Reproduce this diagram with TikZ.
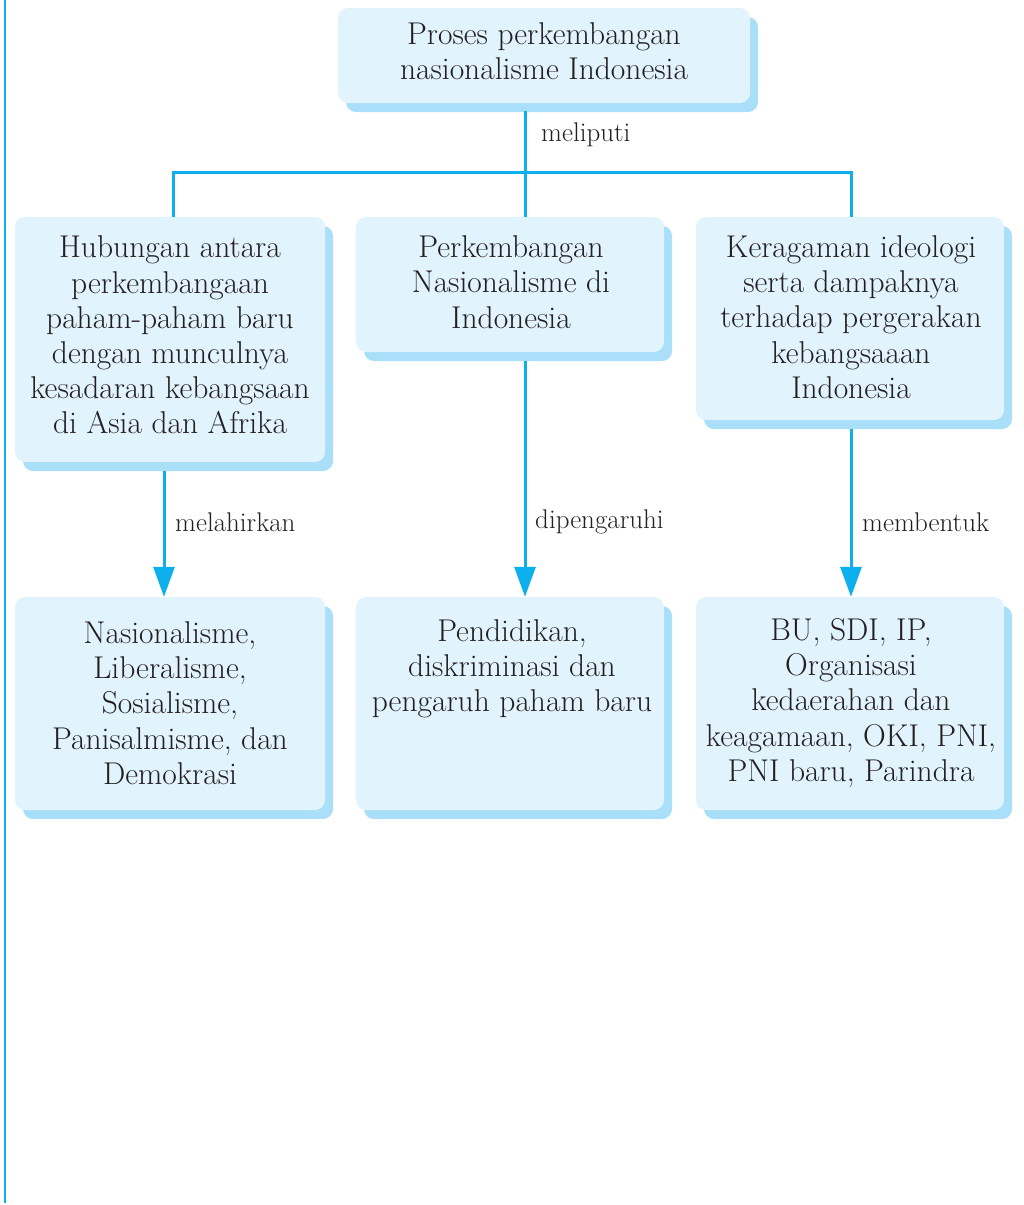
\documentclass[tikz,border=0pt]{standalone}
\usepackage{fontspec}
\setmainfont{Latin Modern Roman}
\usetikzlibrary{arrows.meta}
\definecolor{boxfill}{HTML}{E1F3FC}
\definecolor{boxshadow}{HTML}{A9DFF8}
\definecolor{linec}{HTML}{0DB0EC}
\definecolor{txt}{HTML}{231F20}
\begin{document}
\begin{tikzpicture}[x=1pt,y=-1pt,
  box/.style={rectangle, rounded corners=10pt, fill=boxfill, inner sep=0pt,
    preaction={fill=boxshadow, transform canvas={xshift=8pt,yshift=-9pt}}},
  btext/.style={align=center, inner sep=0pt, font=\fontsize{31.5}{35.2}\selectfont, text=txt},
  conn/.style={draw=linec, line width=3pt},
  arr/.style={conn, -{Triangle[width=21pt,length=30pt]}},
  lab/.style={font=\fontsize{27}{30}\selectfont, anchor=west, inner sep=0pt, text=txt}]
\useasboundingbox (0,0) rectangle (1024,1205);
\fill[white] (0,0) rectangle (1024,1205);
% left frame line
\coordinate (ft) at (5,0);
\coordinate (fb) at (5,1203);
\draw[linec, line width=2.5pt] (ft) -- (fb);

\node[box, minimum width=412pt, minimum height=95pt] (top) at (544,55.5) {};
\node[btext] (topt) at (544,51) {Proses perkembangan\\nasionalisme Indonesia};

\node[box, minimum width=310pt, minimum height=245pt] (b1) at (170,339.5) {};
\node[btext] (b1t) at (170,335) {Hubungan antara\\perkembangaan\\paham-paham baru\\dengan munculnya\\kesadaran kebangsaan\\di Asia dan Afrika};
\node[box, minimum width=308pt, minimum height=135pt] (b2) at (510,284.5) {};
\node[btext] (b2t) at (511,282) {Perkembangan\\Nasionalisme di\\Indonesia};
\node[box, minimum width=308pt, minimum height=203pt] (b3) at (850,318.5) {};
\node[btext] (b3t) at (851,317) {Keragaman ideologi\\serta dampaknya\\terhadap pergerakan\\kebangsaaan\\Indonesia};

\node[box, minimum width=310pt, minimum height=213pt] (c1) at (170,703.5) {};
\node[btext] (c1t) at (170,703) {Nasionalisme,\\Liberalisme,\\Sosialisme,\\Panisalmisme, dan\\Demokrasi};
\node[box, minimum width=308pt, minimum height=213pt] (c2) at (510,703.5) {};
\node[btext, anchor=north] (c2t) at (512,619) {Pendidikan,\\diskriminasi dan\\pengaruh paham baru};
\node[box, minimum width=308pt, minimum height=213pt] (c3) at (850,703.5) {};
\node[btext] (c3t) at (851,703) {BU, SDI, IP,\\Organisasi\\kedaerahan dan\\keagamaan, OKI, PNI,\\PNI baru, Parindra};

% tree connectors
\coordinate (j) at (525,172);
\coordinate (hl) at (173,172);
\coordinate (hr) at (851,172);
\draw[conn] ([yshift=-8pt]top.south -| j) -- (b2.north -| j);
\draw[conn] (b1.north -| hl) -- (hl) -- (hr) -- (b3.north -| hr);
\node[lab] (l0) at (541,135) {meliputi};

% arrows
\coordinate (a1) at (164,0);
\coordinate (a2) at (525,0);
\coordinate (a3) at (851,0);
\draw[arr] ([yshift=-9pt]b1.south -| a1) -- (c1.north -| a1);
\draw[arr] ([yshift=-9pt]b2.south -| a2) -- (c2.north -| a2);
\draw[arr] ([yshift=-9pt]b3.south -| a3) -- (c3.north -| a3);
\node[lab] (l1) at (175,522) {melahirkan};
\node[lab] (l2) at (535,522) {dipengaruhi};
\node[lab] (l3) at (862,522) {membentuk};
\end{tikzpicture}
\end{document}
